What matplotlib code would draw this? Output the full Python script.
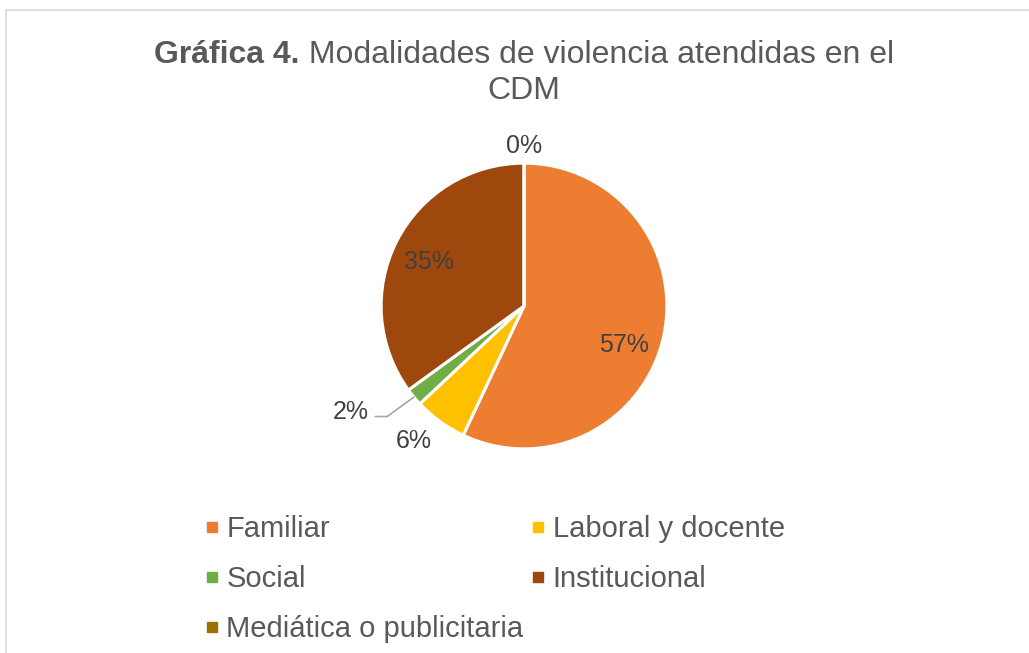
import numpy as np
import matplotlib
matplotlib.use("Agg")
import matplotlib.pyplot as plt
from matplotlib.lines import Line2D

plt.rcParams['font.family'] = ['Liberation Sans', 'DejaVu Sans']

## data
categories = ["Familiar", "Laboral y docente", "Social", "Institucional",
              "Mediática o publicitaria"]
values = [57, 6, 2, 35, 0]
labels = ["57%", "6%", "2%", "35%", "0%"]
colors = ["#ED7D31", "#FFC000", "#70AD47", "#9E480E", "#997300"]

W, H = 1029, 653
fig = plt.figure(figsize=(W / 100, H / 100), dpi=100)

## pie axes: radius 1 -> ~143 px, centre at (524, 306)
box = 400
ax = fig.add_axes([(524 - box / 2) / W, (H - 306 - box / 2) / H, box / W, box / H])
wedges, _ = ax.pie(values, colors=colors, startangle=90, counterclock=False,
                   wedgeprops=dict(edgecolor="white", linewidth=2.2))
ax.set_xlim(-1.4, 1.4)
ax.set_ylim(-1.4, 1.4)
ax.set_aspect("equal")
ax.axis("off")

## data labels: radius and small nudge (points) per label
label_r = [0.75, 1.2, None, 0.75, 1.13]
nudge = [(-3, -11.5), (-7, 3), (0, 0), (0, -3.5), (0, -1)]
lab_kw = dict(ha="center", va="center", fontsize=18, color="#404040")
total = float(sum(values))
start = 90.0
for i, (v, lab) in enumerate(zip(values, labels)):
    mid = np.deg2rad(start - v / total * 360 / 2)
    start -= v / total * 360
    d = np.array([np.cos(mid), np.sin(mid)])
    if label_r[i] is None:
        # label pulled out with a leader line
        ax.annotate(lab, xy=d * 1.0, xytext=(-1.09, -0.74),
                    fontsize=18, color="#404040", ha="right", va="center",
                    arrowprops=dict(arrowstyle="-", color="#A6A6A6", lw=1.2,
                                    shrinkA=3, shrinkB=0, relpos=(1, 0.3),
                                    connectionstyle="angle,angleA=0,angleB=36,rad=0"))
    else:
        ax.annotate(lab, xy=d * label_r[i], xytext=nudge[i],
                    textcoords="offset points", **lab_kw)

## title (bold part + regular part on line 1)
renderer = fig.canvas.get_renderer()
t1 = fig.text(0, 0, "Gráfica 4.", fontsize=23, fontweight="bold", color="#595959",
              va="center")
t2 = fig.text(0, 0, " Modalidades de violencia atendidas en el", fontsize=23,
              color="#595959", va="center")
w1 = t1.get_window_extent(renderer).width
w2 = t2.get_window_extent(renderer).width
x0 = 524 - (w1 + w2) / 2
t1.set_position((x0 / W, 1 - 55 / H))
t2.set_position(((x0 + w1) / W, 1 - 55 / H))
fig.text(524 / W, 1 - 91 / H, "CDM", fontsize=23, color="#595959",
         ha="center", va="center")

## legend, row-wise order in two columns
order = [0, 2, 4, 1, 3]
handles = [Line2D([], [], marker="s", ls="none", color=colors[i], markersize=7)
           for i in order]
leg = fig.legend(handles, [categories[i] for i in order], ncol=2,
                 loc="upper left", bbox_to_anchor=(203 / W, 1 - 515 / H),
                 frameon=False, fontsize=21, labelcolor="#595959",
                 handlelength=0.6, handletextpad=0.2, columnspacing=0.2,
                 labelspacing=0.75, borderpad=0, borderaxespad=0)

## chart border (top and left edges visible)
fig.add_artist(Line2D([6 / W, 1], [1 - 10 / H, 1 - 10 / H], color="#D9D9D9", lw=1.2))
fig.add_artist(Line2D([6 / W, 6 / W], [0, 1 - 10 / H], color="#D9D9D9", lw=1.2))

fig.savefig("out.png", dpi=100, facecolor="white")
